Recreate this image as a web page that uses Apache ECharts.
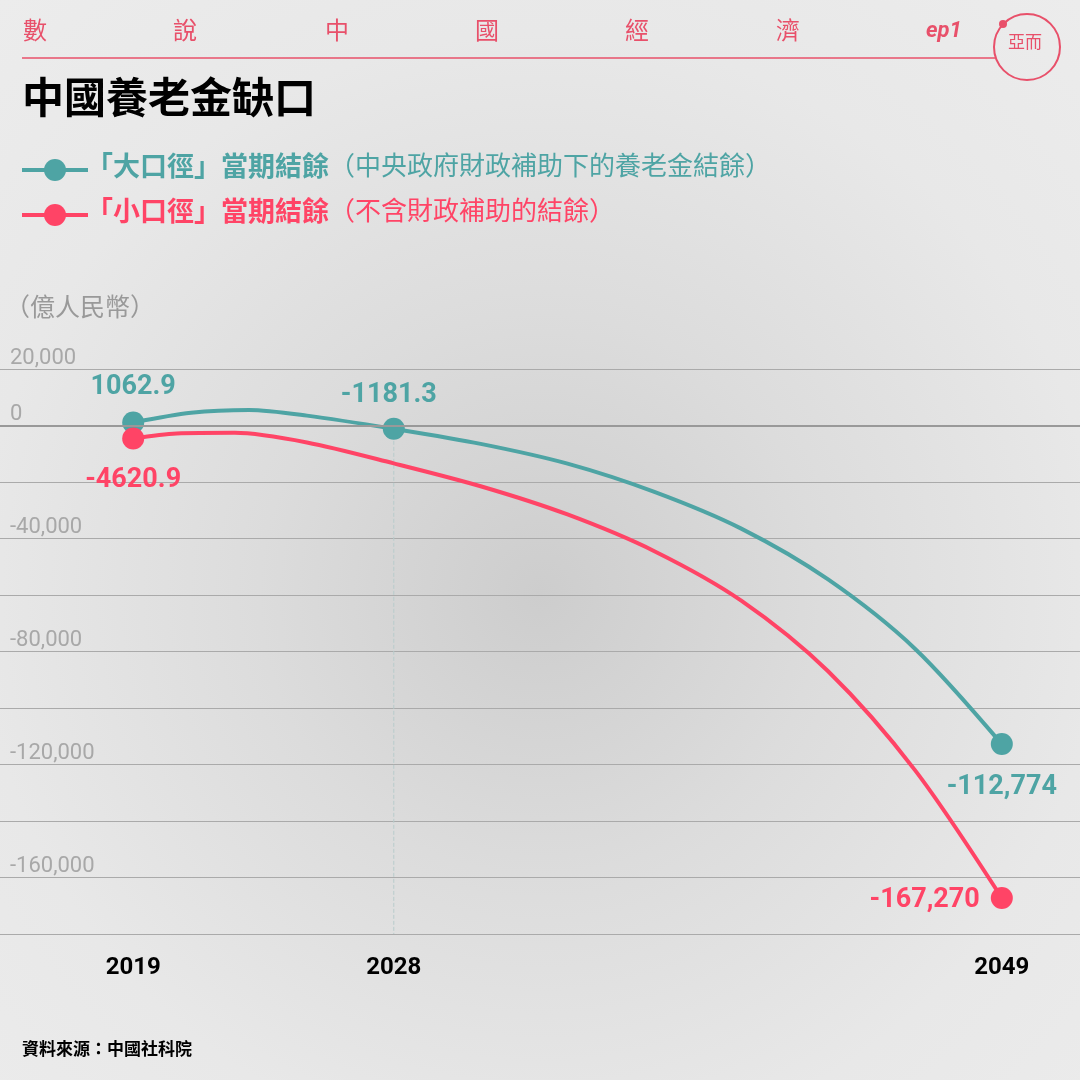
<!DOCTYPE html>
<html><head><meta charset="utf-8">
<script src="https://cdn.jsdelivr.net/npm/echarts@6/dist/echarts.min.js"></script>
<style>
html,body{margin:0;padding:0;width:1080px;height:1080px;overflow:hidden;
background:radial-gradient(circle at 50% 55%, #cdcdcd 0%, #dcdcdc 35%, #e8e8e8 70%, #ececec 100%);}
#c{width:1080px;height:1080px;}
</style></head><body><div id="c"></div>
<script>
const keyYears = [2019, 2028, 2049];
const yTickLabels = [20000, 0, -40000, -80000, -120000, -160000];
const tealSeries = [[2019,1062.9],[2021,4500],[2023,5500],[2025,3500],[2028,-1181.3],[2031,-6500],[2034,-13500],[2037,-23500],[2040,-36500],[2043,-54500],[2046,-79000],[2049,-112774]];
const redSeries  = [[2019,-4620.9],[2020.5,-2800],[2022.5,-2600],[2025,-6000],[2028,-13400],[2031,-21500],[2034,-31500],[2037,-44500],[2040,-62000],[2043,-87000],[2046,-122000],[2049,-167270]];
const tealLabels = {2019:'1062.9',2028:'-1181.3',2049:'-112,774'};
const redLabels = {2019:'-4620.9',2049:'-167,270'};
const teal='#4ea4a4', red='#ff4466', pink='#e8506a';

function mk(arr, labels, color, pos){
  return arr.map(p=>{
    if(labels[p[0]]!==undefined){
      return {value:p, symbol:'circle', symbolSize:22,
        label:{show:true, formatter:labels[p[0]], color:color, fontSize:27, fontWeight:'bold',
          fontFamily:'Roboto', position:pos[p[0]][0], offset:pos[p[0]][1]}};
    }
    return {value:p, symbol:'none'};
  });
}
const chart = echarts.init(document.getElementById('c'));
const hdr = ['數','說','中','國','經','濟'];
const hx = [35,185,337,487,637,788];
const g = hdr.map((t,i)=>({type:'text',left:hx[i]-12,top:18,style:{text:t,fill:pink,fontSize:24,fontFamily:'Noto Sans CJK TC'}}));
g.push({type:'text',left:926,top:20,style:{text:'ep1',fill:pink,fontSize:22,fontWeight:'bold',fontStyle:'italic',fontFamily:'Roboto'}});
g.push({type:'line',shape:{x1:22,y1:58,x2:995,y2:58},style:{stroke:pink,lineWidth:1.5}});
g.push({type:'circle',shape:{cx:1027,cy:47,r:33},style:{fill:'none',stroke:pink,lineWidth:2}});
g.push({type:'circle',shape:{cx:1003,cy:24,r:4},style:{fill:pink}});
g.push({type:'text',left:1008,top:33,style:{text:'亞而',fill:pink,fontSize:17,fontFamily:'Noto Sans CJK TC'}});
g.push({type:'text',left:22,top:76,style:{text:'中國養老金缺口',fill:'#000',fontSize:42,fontWeight:'bold',fontFamily:'Noto Sans CJK TC'}});
[[170,teal,'「大口徑」當期結餘','（中央政府財政補助下的養老金結餘）'],[215,red,'「小口徑」當期結餘','（不含財政補助的結餘）']].forEach(r=>{
  g.push({type:'line',shape:{x1:22,y1:r[0],x2:88,y2:r[0]},style:{stroke:r[1],lineWidth:4}});
  g.push({type:'circle',shape:{cx:55,cy:r[0],r:11},style:{fill:r[1]}});
  g.push({type:'text',left:86,top:r[0]-18,style:{text:'{b|'+r[2]+'}{n|'+r[3]+'}',
    rich:{b:{fill:r[1],fontSize:27,fontWeight:'bold',fontFamily:'Noto Sans CJK TC'},n:{fill:r[1],fontSize:26,fontFamily:'Noto Sans CJK TC'}}}});
});
g.push({type:'text',left:5,top:294,style:{text:'（億人民幣）',fill:'#999',fontSize:25,fontFamily:'Noto Sans CJK TC'}});
g.push({type:'text',left:22,top:1040,style:{text:'資料來源：中國社科院',fill:'#000',fontSize:17,fontWeight:'bold',fontFamily:'Noto Sans CJK TC'}});

chart.setOption({
  animation:false,
  graphic:g,
  grid:{left:0,right:0,top:369,height:565},
  xAxis:{type:'value',min:2014.4,max:2051.7,splitLine:{show:false},axisTick:{show:false},
    axisLine:{show:false},
    axisLabel:{customValues:keyYears,formatter:v=>String(v),color:'#000',fontSize:24,fontWeight:'bold',fontFamily:'Roboto',margin:22}},
  yAxis:{type:'value',min:-180000,max:20000,interval:20000,
    axisLine:{show:false},axisTick:{show:false},
    splitLine:{lineStyle:{color:'#aaa',width:1}},
    axisLabel:{inside:true,margin:10,verticalAlign:'bottom',color:'#a8a8a8',fontSize:22,fontFamily:'Roboto',
      formatter:v=>yTickLabels.includes(v)?v.toLocaleString('en-US'):''}},
  series:[
    {type:'line',smooth:0.3,data:mk(tealSeries,tealLabels,teal,{2019:['top',[0,-6]],2028:['top',[-5,-4]],2049:['bottom',[0,14]]}),
     lineStyle:{color:teal,width:4},itemStyle:{color:teal},z:3,
     markLine:{silent:true,symbol:'none',label:{show:false},
       data:[[{coord:[2014.4,0]},{coord:[2051.7,0]}]],
       lineStyle:{color:'#999',type:'solid',width:2}}},
    {type:'line',smooth:0.3,data:mk(redSeries,redLabels,red,{2019:['bottom',[0,12]],2049:['left',[-6,2]]}),
     lineStyle:{color:red,width:4},itemStyle:{color:red},z:4},
    {type:'line',data:[[2028,-1181],[2028,-180000]],symbol:'none',lineStyle:{color:'#b8cccc',type:'dashed',width:1},z:1}
  ]
});
</script></body></html>
